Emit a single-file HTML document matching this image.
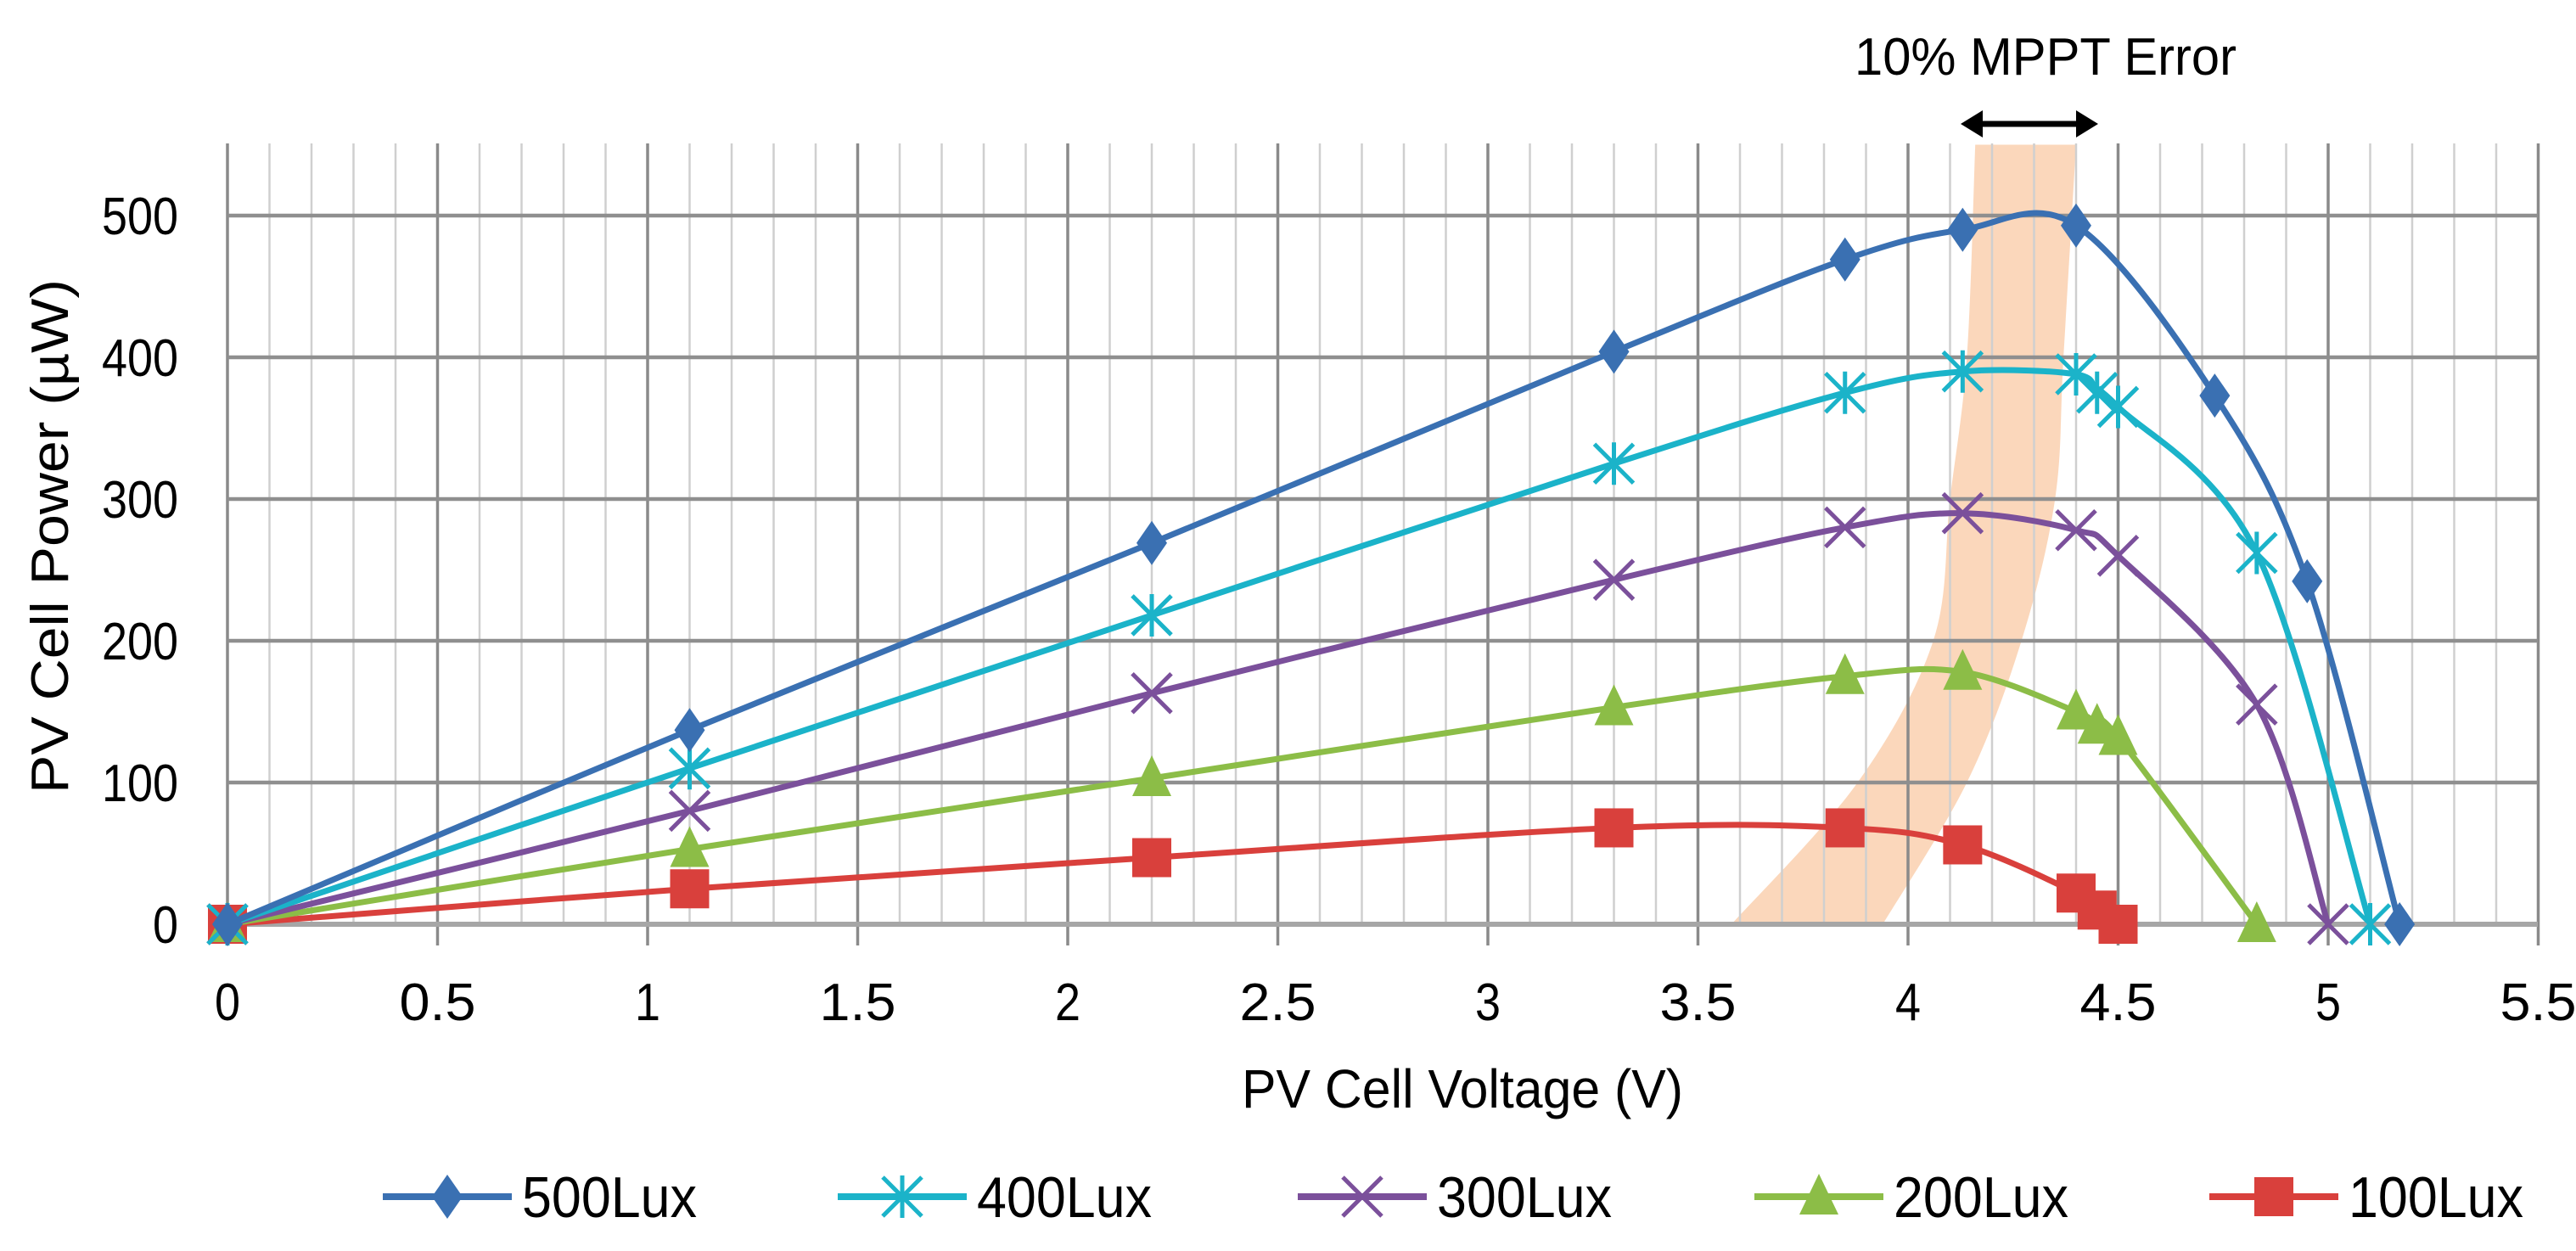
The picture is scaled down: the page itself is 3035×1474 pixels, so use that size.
<!DOCTYPE html>
<html><head><meta charset="utf-8"><style>
html,body{margin:0;padding:0;background:#fff;}
svg{display:block;font-family:"Liberation Sans",sans-serif;}
</style></head><body>
<svg id="chart" width="3035" height="1474" viewBox="0 0 3035 1474" xmlns="http://www.w3.org/2000/svg">
<rect x="0" y="0" width="3035" height="1474" fill="#fff"/>
<g id="band"></g>
<g id="grid"></g>
<g id="series"></g>
<g id="axes"></g>
<text x="2410" y="88" font-size="62" text-anchor="middle" fill="#000" textLength="450" lengthAdjust="spacingAndGlyphs">10% MPPT Error</text>
<g>
<line x1="2330" y1="146" x2="2452" y2="146" stroke="#000" stroke-width="7"/>
<polygon points="2310,146 2336,130 2336,162" fill="#000"/>
<polygon points="2472,146 2446,130 2446,162" fill="#000"/>
</g>
<text x="1723" y="1305" font-size="64" text-anchor="middle" fill="#000" textLength="520" lengthAdjust="spacingAndGlyphs">PV Cell Voltage (V)</text>
<text transform="translate(80,632) rotate(-90)" font-size="62" text-anchor="middle" fill="#000" textLength="606" lengthAdjust="spacingAndGlyphs">PV Cell Power (µW)</text>
<g id="legend"></g>
</svg>
<script>
const seriesNames = ["500Lux","400Lux","300Lux","200Lux","100Lux"];
const seriesColors = ["#3a70b2","#1bb3c9","#7b509b","#8cbd47","#d9403c"];
const seriesMarkers = ["diamond","asterisk","cross","triangle","square"];
const x500 = [0,1.1,2.2,3.3,3.85,4.13,4.4,4.73,4.95,5.17];
const y500 = [0,137,269,404,469,490,493,373,242,0];
const x400 = [0,1.1,2.2,3.3,3.85,4.13,4.4,4.45,4.5,4.83,5.1];
const y400 = [0,110,218,325,375,390,388,375,365,262,0];
const x300 = [0,1.1,2.2,3.3,3.85,4.13,4.4,4.5,4.83,5.0];
const y300 = [0,80,163,243,280,290,278,260,155,0];
const x200 = [0,1.1,2.2,3.3,3.85,4.13,4.4,4.45,4.5,4.83];
const y200 = [0,53,103,153,175,178,150,140,132,0];
const x100 = [0,1.1,2.2,3.3,3.85,4.13,4.4,4.45,4.5];
const y100 = [0,25,47,68,68,56,22,10,0];
const xTicks = ["0","0.5","1","1.5","2","2.5","3","3.5","4","4.5","5","5.5"];
const yTicks = ["0","100","200","300","400","500"];
const bandLeftV = [3.58,3.88,4.06,4.10,4.14,4.16];
const bandRightV = [3.94,4.14,4.27,4.35,4.37,4.40];
const bandP = [0,100,200,300,400,550];

const NS="http://www.w3.org/2000/svg";
const X0=268, PXU=495, Y0=1089, PYU=1.67, TOP=169, RIGHT=2990;
const sx=v=>X0+v*PXU, sy=p=>Y0-p*PYU;
function mk(tag,attrs,parent){const e=document.createElementNS(NS,tag);for(const k in attrs)e.setAttribute(k,attrs[k]);parent.appendChild(e);return e;}
function smooth(pts){
  let d=`M${pts[0][0]},${pts[0][1]}`;
  for(let i=0;i<pts.length-1;i++){
    const p0=pts[i-1]||pts[i],p1=pts[i],p2=pts[i+1],p3=pts[i+2]||p2;
    const c1=[p1[0]+(p2[0]-p0[0])/6,p1[1]+(p2[1]-p0[1])/6];
    const c2=[p2[0]-(p3[0]-p1[0])/6,p2[1]-(p3[1]-p1[1])/6];
    d+=` C${c1[0]},${c1[1]} ${c2[0]},${c2[1]} ${p2[0]},${p2[1]}`;
  }
  return d;
}
const band=document.getElementById('band');
const L=bandP.map((p,i)=>[sx(bandLeftV[i]),Math.max(TOP,sy(p))]);
const R=bandP.map((p,i)=>[sx(bandRightV[i]),Math.max(TOP,sy(p))]).reverse();
const bd=smooth(L);
const rd=smooth(R).replace(/^M/,'L');
const bp=mk('path',{d:bd+' '+rd+' Z',fill:'#fbd3b4',opacity:'0.9'},band);


const grid=document.getElementById('grid');
for(let i=0;i<=55;i++){
  const major=i%5===0;
  const ln=mk('line',{x1:sx(i/10),x2:sx(i/10),y1:TOP,y2:major?Y0+25:Y0,stroke:major?'#8a8a8a':'#cfcfcf','stroke-width':major?3.5:2.5},grid);
  
  
}
yTicks.forEach((t,i)=>{
  const v=+t;
  const ln=mk('line',{x1:X0,x2:RIGHT,y1:sy(v),y2:sy(v),stroke:i===0?'#a6a6a6':'#8f8f8f','stroke-width':i===0?6:4.5},grid);
  
  
});
const axes=document.getElementById('axes');
xTicks.forEach(t=>{
  const e=mk('text',{x:sx(+t),y:1202,'font-size':62,'text-anchor':'middle',fill:'#000',textLength:t.length*30,lengthAdjust:'spacingAndGlyphs'},axes);
  e.textContent=t;
  
  
});
yTicks.forEach(t=>{
  const e=mk('text',{x:210,y:sy(+t)+22,'font-size':62,'text-anchor':'end',fill:'#000',textLength:t.length*30,lengthAdjust:'spacingAndGlyphs'},axes);
  e.textContent=t;
  
  
});
function marker(type,x,y,color,parent){
  const g=mk('g',{},parent);
  const s=23;
  if(type==='diamond')mk('polygon',{points:`${x},${y-s-3} ${x+s-5},${y} ${x},${y+s+3} ${x-s+5},${y}`,fill:color},g);
  else if(type==='square')mk('rect',{x:x-s,y:y-s,width:2*s,height:2*s,fill:color},g);
  else if(type==='triangle')mk('polygon',{points:`${x},${y-s-4} ${x+s},${y+s-2} ${x-s},${y+s-2}`,fill:color},g);
  else if(type==='cross'){
    mk('path',{d:`M${x-s},${y-s}L${x+s},${y+s}M${x+s},${y-s}L${x-s},${y+s}`,stroke:color,'stroke-width':5},g);
  } else {
    mk('path',{d:`M${x-s},${y-s}L${x+s},${y+s}M${x+s},${y-s}L${x-s},${y+s}M${x},${y-s-2}L${x},${y+s+2}`,stroke:color,'stroke-width':5},g);
  }
  return g;
}
const sx_=[x500,x400,x300,x200,x100], sy_=[y500,y400,y300,y200,y100];
const sg=document.getElementById('series');
for(let k=sx_.length-1;k>=0;k--){
  const pts=sx_[k].map((v,i)=>[sx(v),sy(sy_[k][i])]);
  const g=mk('g',{},sg);
  
  
  const p=mk('path',{d:smooth(pts),fill:'none',stroke:seriesColors[k],'stroke-width':7,'stroke-linejoin':'round'},g);
  
  
  pts.forEach(pt=>{
    const m=marker(seriesMarkers[k],pt[0],pt[1],seriesColors[k],g);
    
    
  });
}
const lg=document.getElementById('legend');
const legX=[451,987,1529,2067,2603];
seriesNames.forEach((n,k)=>{
  const g=mk('g',{},lg);
  
  
  mk('line',{x1:legX[k],x2:legX[k]+152,y1:1410,y2:1410,stroke:seriesColors[k],'stroke-width':8},g);
  marker(seriesMarkers[k],legX[k]+76,1410,seriesColors[k],g);
  const t=mk('text',{x:legX[k]+164,y:1434,'font-size':68,fill:'#000',textLength:206,lengthAdjust:'spacingAndGlyphs'},g);
  t.textContent=n;
  
  
});
</script>
</body></html>
